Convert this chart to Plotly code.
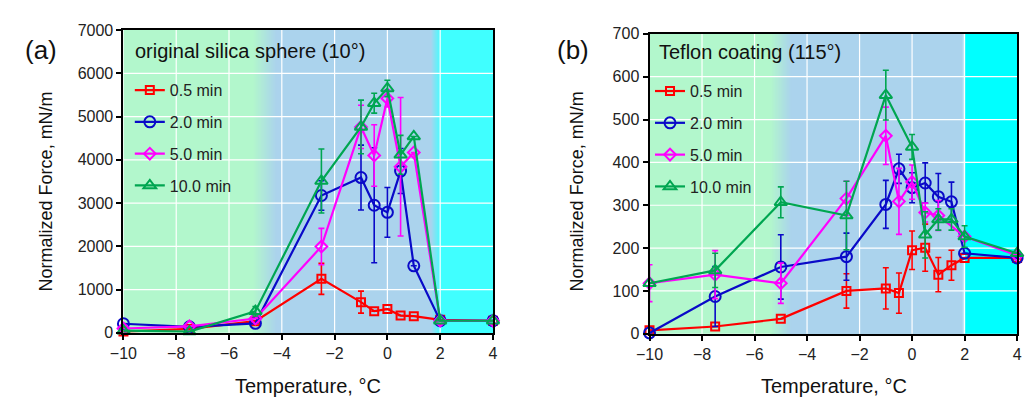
import plotly.graph_objects as go

W, H = 1027, 407
FONT = "Liberation Sans, Arial, sans-serif"

series_names = ["0.5 min", "2.0 min", "5.0 min", "10.0 min"]

# Panel (a): original silica sphere
temp_a = [-10, -7.5, -5, -2.5, -1, -0.5, 0, 0.5, 1, 2, 4]
force_a_05 = [30, 90, 270, 1250, 710, 500, 550, 400, 385, 300, 280]
err_a_05 = [0, 0, 0, 360, 255, 0, 0, 0, 0, 0, 0]
force_a_20 = [210, 140, 220, 3175, 3590, 2950, 2785, 3740, 1550, 280, 280]
err_a_20 = [0, 0, 0, 340, 750, 1330, 575, 520, 0, 0, 0]
force_a_50 = [100, 150, 330, 1995, 4760, 4100, 5420, 3840, 4170, 280, 280]
err_a_50 = [0, 0, 0, 420, 500, 710, 200, 1600, 0, 0, 0]
force_a_100 = [50, 30, 500, 3510, 4760, 5310, 5650, 4115, 4540, 280, 280]
err_a_100 = [0, 0, 110, 740, 620, 230, 190, 450, 0, 0, 0]

# Panel (b): Teflon coating
temp_b = [-10, -7.5, -5, -2.5, -1, -0.5, 0, 0.5, 1, 1.5, 2, 4]
force_b_05 = [8, 17, 35, 100, 106, 95, 195, 201, 138, 160, 177, 177]
err_b_05 = [0, 0, 0, 40, 48, 47, 45, 55, 40, 35, 0, 0]
force_b_20 = [2, 87, 156, 180, 302, 385, 341, 352, 320, 308, 188, 177]
err_b_20 = [0, 70, 75, 55, 56, 34, 35, 47, 54, 46, 0, 0]
force_b_50 = [118, 138, 118, 316, 462, 309, 354, 283, 276, None, 227, 183]
err_b_50 = [43, 56, 47, 40, 67, 77, 40, 22, 35, 0, 0, 0]
force_b_100 = [118, 148, 307, 276, 557, None, 436, 231, 267, 267, 227, 188]
err_b_100 = [0, 40, 36, 80, 58, 0, 29, 54, 25, 25, 25, 0]

x_ticks = [-10, -8, -6, -4, -2, 0, 2, 4]
y_ticks_a = [0, 1000, 2000, 3000, 4000, 5000, 6000, 7000]
y_ticks_b = [0, 100, 200, 300, 400, 500, 600, 700]

colors = ["#ff0000", "#0a0ac8", "#ff00ff", "#00a651"]
symbols = ["square-open", "circle-open", "diamond-open", "triangle-up-open"]
msizes = [8, 11, 9, 11]

fig = go.Figure()

def px2x(p):
    return p / W

def px2y(p):
    return 1 - p / H

dom_a_x = [px2x(111.5), px2x(488)]
dom_a_y = [px2y(339), px2y(23)]
dom_b_x = [px2x(647.5), px2x(1022)]
dom_b_y = [px2y(340), px2y(27)]

panels = [
    (temp_a, [force_a_05, force_a_20, force_a_50, force_a_100],
     [err_a_05, err_a_20, err_a_50, err_a_100], "x", "y", "legend", "a"),
    (temp_b, [force_b_05, force_b_20, force_b_50, force_b_100],
     [err_b_05, err_b_20, err_b_50, err_b_100], "x2", "y2", "legend2", "b"),
]

for temps, forces, errs, xa, ya, leg, tag in panels:
    for i in range(4):
        fig.add_trace(go.Scatter(
            x=temps, y=forces[i], name=series_names[i],
            xaxis=xa, yaxis=ya, legend=leg, legendgroup=f"{tag}{i}",
            mode="lines+markers", connectgaps=True, cliponaxis=False,
            line=dict(color=colors[i], width=2.2),
            marker=dict(symbol=symbols[i], size=msizes[i], color=colors[i],
                        line=dict(color=colors[i], width=2)),
            error_y=dict(type="data", array=errs[i], visible=True,
                         color=colors[i], thickness=1.6, width=3),
        ))

def mix(c1, c2, t):
    return "rgb({},{},{})".format(*[round(a + (b - a) * t) for a, b in zip(c1, c2)])

green = (178, 247, 204)
blue = (171, 211, 237)
cyan_a = (64, 255, 255)
cyan_b = (0, 255, 255)

shapes = []

def band(xref, yref, x0, x1, c):
    shapes.append(dict(type="rect", xref=xref, yref=yref + " domain", x0=x0, x1=x1,
                       y0=0, y1=1, fillcolor=c, line=dict(width=0), layer="below"))

def grad(xref, yref, x0, x1, c1, c2, n=24):
    step = (x1 - x0) / n
    for k in range(n):
        band(xref, yref, x0 + k * step, 4, mix(c1, c2, (k + 0.5) / n))

def grid(xref, yref, yt):
    for xv in x_ticks[1:-1]:
        shapes.append(dict(type="line", xref=xref, yref=yref + " domain", x0=xv, x1=xv,
                           y0=0, y1=1, line=dict(color="white", width=1.2), layer="below"))
    for yv in yt[1:-1]:
        shapes.append(dict(type="line", xref=xref + " domain", yref=yref, x0=0, x1=1,
                           y0=yv, y1=yv, line=dict(color="white", width=1.2), layer="below"))

# panel a background
band("x", "y", -10, 4, mix(green, green, 0))
grad("x", "y", -5.1, -4.2, green, blue)
band("x", "y", -4.2, 4, mix(blue, blue, 0))
grad("x", "y", 1.65, 2.03, blue, cyan_a, 12)
band("x", "y", 2.03, 4, mix(cyan_a, cyan_a, 0))
grid("x", "y", y_ticks_a)
# panel b background
band("x2", "y2", -10, 4, mix(green, green, 0))
grad("x2", "y2", -5.4, -4.6, green, blue)
band("x2", "y2", -4.6, 4, mix(blue, blue, 0))
grad("x2", "y2", 1.9, 1.98, blue, (200, 240, 250), 4)
band("x2", "y2", 1.98, 4, mix(cyan_b, cyan_b, 0))
grid("x2", "y2", y_ticks_b)

axis_common = dict(
    showline=True, linecolor="black", linewidth=2, mirror=True,
    ticks="outside", ticklen=5, tickwidth=1.5, tickcolor="black",
    showgrid=False, zeroline=False,
    tickfont=dict(family=FONT, size=16, color="#222"),
)

fig.update_layout(
    width=W, height=H,
    margin=dict(l=0, r=0, t=0, b=0),
    paper_bgcolor="white", plot_bgcolor="white",
    showlegend=True,
    shapes=shapes,
    xaxis=dict(domain=dom_a_x, range=[-10, 4], tickvals=x_ticks, anchor="y", **axis_common),
    yaxis=dict(domain=dom_a_y, range=[0, 7000], tickvals=y_ticks_a, anchor="x", **axis_common),
    xaxis2=dict(domain=dom_b_x, range=[-10, 4], tickvals=x_ticks, anchor="y2", **axis_common),
    yaxis2=dict(domain=dom_b_y, range=[0, 700], tickvals=y_ticks_b, anchor="x2", **axis_common),
    legend=dict(x=px2x(118), y=px2y(68), xanchor="left", yanchor="top",
                bgcolor="rgba(0,0,0,0)", borderwidth=0, tracegroupgap=8,
                font=dict(family=FONT, size=16, color="#222"), itemwidth=30),
    legend2=dict(x=px2x(648), y=px2y(69), xanchor="left", yanchor="top",
                 bgcolor="rgba(0,0,0,0)", borderwidth=0, tracegroupgap=8,
                 font=dict(family=FONT, size=16, color="#222"), itemwidth=30),
)

ann = []

def text(s, x, y, size, xanchor="left", angle=0):
    ann.append(dict(text=s, x=px2x(x), y=px2y(y), xref="paper", yref="paper",
                    xanchor=xanchor, yanchor="middle", showarrow=False, textangle=angle,
                    font=dict(family=FONT, size=size, color="#111")))

text("original silica sphere (10°)", 121, 45, 20)
text("Teflon coating (115°)", 655, 46, 20)
text("(a)", 9, 44, 26)
text("(b)", 551, 44, 26)
text("Normalized Force, mN/m", 33, 191, 18, "center", -90)
text("Normalized Force, mN/m", 574, 191, 18, "center", -90)
text("Temperature, °C", 300, 394, 20, "center")
text("Temperature, °C", 835, 394, 20, "center")
fig.update_layout(annotations=ann)

fig.write_html("out.html", config={"displayModeBar": False},
               post_script="document.body.style.margin='0';")
